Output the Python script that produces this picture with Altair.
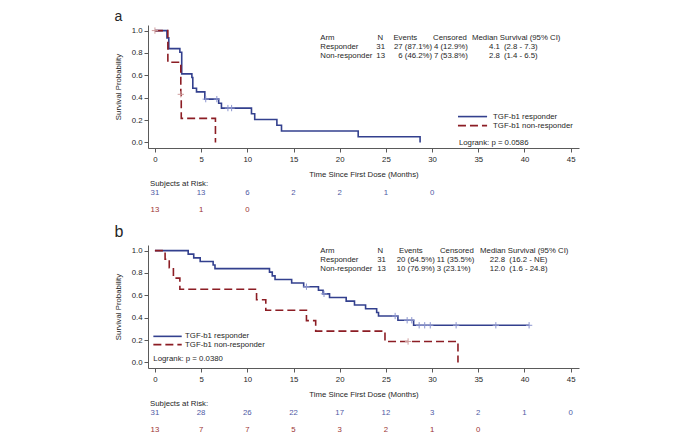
import altair as alt
import pandas as pd

FONT = "Liberation Sans"
FS = 7.8
BLUE, RED = "#33408e", "#8c1d24"
BLUE_TXT, RED_TXT = "#4f5aa5", "#9c3434"
BLUE_CEN, RED_CEN = "#8d96cf", "#cf9d9d"
TXT = "#262626"
AXIS = "#5a5a5a"

# ---------------- data ----------------
series_names = ["TGF-b1 responder", "TGF-b1 non-responder"]

# panel a : Kaplan-Meier steps (time in months, survival)
a_resp_t = [0, 1.3, 1.5, 2.7, 2.9, 4.0, 4.1, 4.5, 5.4, 6.9, 7.2, 10.45, 10.8, 13.2, 13.7, 22.0, 28.7]
a_resp_s = [1.0, 0.935, 0.839, 0.806, 0.613, 0.581, 0.484, 0.452, 0.387, 0.35, 0.307, 0.256, 0.205, 0.154, 0.102, 0.051, 0.0]
a_resp_cens_t = [5.5, 6.7, 7.9, 8.3]
a_resp_cens_s = [0.387, 0.387, 0.307, 0.307]
a_non_t = [0, 1.4, 2.8, 2.85, 6.55]
a_non_s = [1.0, 0.717, 0.43, 0.215, 0.0]
a_non_cens_t = [0, 2.8]
a_non_cens_s = [1.0, 0.43]

# panel b
b_resp_t = [0, 3.6, 4.2, 4.9, 6.3, 6.5, 12.4, 12.7, 13.0, 14.8, 16.1, 17.7, 18.2, 18.9, 20.7,
            21.6, 22.8, 24.0, 24.2, 26.3, 28.0, 40.5]
b_resp_s = [1.0, 0.968, 0.935, 0.903, 0.871, 0.839, 0.807, 0.774, 0.742, 0.710, 0.677, 0.645, 0.613,
            0.580, 0.548, 0.514, 0.480, 0.447, 0.415, 0.377, 0.332, 0.332]
b_resp_cens_t = [16.4, 18.3, 26.0, 27.3, 27.8, 28.6, 29.2, 29.8, 32.6, 36.9, 40.5]
b_resp_cens_s = [0.677, 0.613, 0.415, 0.377, 0.377, 0.332, 0.332, 0.332, 0.332, 0.332, 0.332]
b_non_t = [0, 1.1, 1.55, 2.0, 2.7, 11.0, 12.0, 16.4, 17.4, 24.9, 32.8]
b_non_s = [1.0, 0.923, 0.846, 0.754, 0.654, 0.561, 0.467, 0.374, 0.280, 0.187, 0.0]
b_non_cens_t = [27.4]
b_non_cens_s = [0.187]

# subjects at risk
risk_times = [0, 5, 10, 15, 20, 25, 30, 35, 40, 45]
a_risk_resp = [31, 13, 6, 2, 2, 1, 0]
a_risk_non = [13, 1, 0]
b_risk_resp = [31, 28, 26, 22, 17, 12, 3, 2, 1, 0]
b_risk_non = [13, 7, 7, 5, 3, 2, 1, 0]

# summary tables
table_header = ["Arm", "N", "Events", "Censored", "Median Survival (95% CI)"]
a_rows = [["Responder", "31", "27 (87.1%)", "4 (12.9%)", "4.1", "(2.8 - 7.3)"],
          ["Non-responder", "13", "6 (46.2%)", "7 (53.8%)", "2.8", "(1.4 - 6.5)"]]
b_rows = [["Responder", "31", "20 (64.5%)", "11 (35.5%)", "22.8", "(16.2 - NE)"],
          ["Non-responder", "13", "10 (76.9%)", "3 (23.1%)", "12.0", "(1.6 - 24.8)"]]
a_logrank = "Logrank: p = 0.0586"
b_logrank = "Logrank: p = 0.0380"

# ---------------- layout (data units) ----------------
XDOM = [-0.75, 45.9]
YDOM = [-0.05, 1.05]
W, H = 431, 123
xs = alt.Scale(domain=XDOM, nice=False, zero=False)
ys = alt.Scale(domain=YDOM, nice=False, zero=False)

common_axis = dict(grid=False, tickSize=4, labelFontSize=FS, titleFontSize=FS,
                   titleFontWeight="normal", labelFont=FONT, titleFont=FONT,
                   domainColor=AXIS, tickColor=AXIS, labelColor=TXT, titleColor=TXT,
                   domainWidth=1, tickWidth=1)
xaxis = alt.Axis(values=list(range(0, 50, 5)), title="Time Since First Dose (Months)",
                 labelPadding=3.4, titlePadding=7, labelOverlap=False, **common_axis)
yaxis = alt.Axis(values=[0, 0.2, 0.4, 0.6, 0.8, 1.0], format=".1f", title="Survival Probability",
                 labelPadding=2, titlePadding=9, **common_axis)


def X():
    return alt.X("x:Q", scale=xs, axis=xaxis)


def Y():
    return alt.Y("y:Q", scale=ys, axis=yaxis)


def curve(t, s, color, dash):
    df = pd.DataFrame({"x": t, "y": s})
    kw = dict(interpolate="step-after", color=color, strokeWidth=1.6)
    if dash:
        kw["strokeDash"] = [8, 4]
    return alt.Chart(df).mark_line(**kw).encode(x=X(), y=Y())


def cens(t, s, color):
    df = pd.DataFrame({"x": t, "y": s})
    return alt.Chart(df).mark_point(shape="M-1,0H1M0,-1V1", size=40, filled=False,
                                    color=color, strokeWidth=1, opacity=1).encode(x=X(), y=Y())


def texts(xv, yv, tv, align, color=TXT, size=FS, baseline="middle"):
    df = pd.DataFrame({"x": xv, "y": yv, "text": tv})
    return alt.Chart(df).mark_text(align=align, baseline=baseline, font=FONT, fontSize=size,
                                   color=color).encode(x=X(), y=Y(), text="text:N")


def rule(x1, x2, y, color, dash):
    df = pd.DataFrame({"x": [x1], "x2": [x2], "y": [y]})
    kw = dict(color=color, strokeWidth=1.6)
    if dash:
        kw["strokeDash"] = [8, 4]
    return alt.Chart(df).mark_rule(**kw).encode(x=X(), x2="x2:Q", y=Y())


def panel(letter, letter_y, letter_fs, resp, non, rows, cols, rows_y, leg, logrank, lr_pos,
          risk_resp, risk_non, anchor=False):
    layers = []
    layers.append(curve(resp[0], resp[1], BLUE, False))
    layers.append(curve(non[0], non[1], RED, True))
    layers.append(cens(resp[2], resp[3], BLUE_CEN))
    layers.append(cens(non[2], non[3], RED_CEN))
    # panel letter
    layers.append(texts([-4.37], [letter_y], [letter], "left", size=letter_fs, baseline="alphabetic"))
    # summary table
    arm_x, n_hx, n_x, ev_hx, ev_x, ce_hx, ce_x, md_hx, md_x, ci_x = cols
    y0, y1, y2 = rows_y
    layers.append(texts([arm_x] * 3, [y0, y1, y2], [table_header[0], rows[0][0], rows[1][0]], "left"))
    layers.append(texts([n_hx, ev_hx], [y0, y0], [table_header[1], table_header[2]], "center"))
    layers.append(texts([ce_hx, md_hx], [y0, y0], [table_header[3], table_header[4]], "left"))
    layers.append(texts([n_x, n_x, ev_x, ev_x, md_x, md_x], [y1, y2, y1, y2, y1, y2],
                        [rows[0][1], rows[1][1], rows[0][2], rows[1][2], rows[0][4], rows[1][4]], "right"))
    layers.append(texts([ce_x, ce_x, ci_x, ci_x], [y1, y2, y1, y2],
                        [rows[0][3], rows[1][3], rows[0][5], rows[1][5]], "left"))
    # legend
    lx1, lx2, ltx, ly1, ly2 = leg
    layers.append(rule(lx1, lx2, ly1, BLUE, False))
    layers.append(rule(lx1, lx2, ly2, RED, True))
    layers.append(texts([ltx, ltx], [ly1, ly2], series_names, "left"))
    layers.append(texts([lr_pos[0]], [lr_pos[1]], [logrank], "left"))
    # subjects at risk
    layers.append(texts([-0.53], [-0.369], ["Subjects at Risk:"], "left"))
    layers.append(texts(risk_times[:len(risk_resp)], [-0.455] * len(risk_resp),
                        [str(v) for v in risk_resp], "center", color=BLUE_TXT))
    layers.append(texts(risk_times[:len(risk_non)], [-0.603] * len(risk_non),
                        [str(v) for v in risk_non], "center", color=RED_TXT))
    if anchor:
        layers.append(alt.Chart(alt.Data(values=[{}])).mark_rect(opacity=0).encode(
            x=alt.value(-140), x2=alt.value(538), y=alt.value(-16.4), y2=alt.value(407.6)))
    return alt.layer(*layers).properties(width=W, height=H)


cols_a = [17.9, 24.4, 24.9, 27.1, 30.0, 30.1, 30.2, 34.32, 37.34, 37.77]
cols_b = [17.9, 24.4, 25.0, 27.7, 30.3, 30.85, 30.5, 35.19, 37.89, 38.36]

pa = panel("a", 1.09, 14,
           (a_resp_t, a_resp_s, a_resp_cens_t, a_resp_cens_s),
           (a_non_t, a_non_s, a_non_cens_t, a_non_cens_s),
           a_rows, cols_a, [0.931, 0.851, 0.770],
           (32.8, 35.95, 36.6, 0.231, 0.150), a_logrank, (32.9, -0.008),
           a_risk_resp, a_risk_non, anchor=True)
pb = panel("b", 1.119, 16,
           (b_resp_t, b_resp_s, b_resp_cens_t, b_resp_cens_s),
           (b_non_t, b_non_s, b_non_cens_t, b_non_cens_s),
           b_rows, cols_b, [0.997, 0.917, 0.834],
           (-0.17, 2.9, 3.26, 0.233, 0.159), b_logrank, (-0.17, 0.031),
           b_risk_resp, b_risk_non)

chart = alt.vconcat(pa, pb, spacing=97, bounds="flush").properties(
    padding=0, background="white"
).configure_view(stroke=None)

chart.save("out.html", embed_options={"renderer": "svg", "actions": False})
